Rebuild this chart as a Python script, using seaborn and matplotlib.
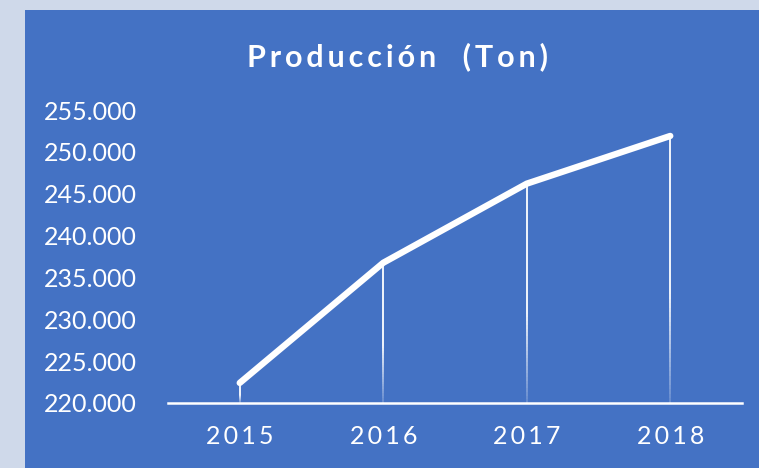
import numpy as np
import pandas as pd
import seaborn as sns
import matplotlib.pyplot as plt
from matplotlib.patches import Rectangle
from matplotlib.collections import LineCollection

years = ['2015', '2016', '2017', '2018']
produccion = [222400, 236750, 246200, 251900]
y_ticks = [220000, 225000, 230000, 235000, 240000, 245000, 250000, 255000]
title = 'Producción  (Ton)'

BLUE = '#4472C4'
PALE = '#CFD9EA'

sns.set_theme(style='white')
plt.rcParams['font.family'] = ['Lato', 'DejaVu Sans']


def spaced(text, gap='\u200a'):
  return gap.join(text)


def fmt(v):
  return f'{v:,.0f}'.replace(',', '.')


df = pd.DataFrame({'x': range(len(years)), 'y': produccion})

fig = plt.figure(figsize=(7.59, 4.68), dpi=100, facecolor=PALE)
fig.patches.append(Rectangle((25 / 759, 0), 1, 1 - 10 / 468,
                             transform=fig.transFigure, facecolor=BLUE,
                             edgecolor='none', zorder=-10))

ax = fig.add_axes([168 / 759, 65 / 468, (742 - 168) / 759, (403 - 110) / 468])
ax.set_facecolor('none')
ax.set_zorder(5)

# drop lines, fading toward the base
base = y_ticks[0]
for xi, yi in zip(df['x'], df['y']):
  ys = np.linspace(base, yi, 60)
  segs = [[(xi, ys[i]), (xi, ys[i + 1])] for i in range(len(ys) - 1)]
  frac = (ys[:-1] - base) / (yi - base)
  alpha = np.clip(0.2 + frac * 2.0, 0, 1)
  colors = [(1, 1, 1, a) for a in alpha]
  ax.add_collection(LineCollection(segs, colors=colors, linewidths=1.3, zorder=2))

sns.lineplot(data=df, x='x', y='y', ax=ax, color='white', linewidth=4.6,
             solid_capstyle='round', solid_joinstyle='round', zorder=3)

ax.set_xlim(-0.5, len(years) - 0.5)
ax.set_ylim(y_ticks[0], y_ticks[-1])
ax.set_xticks(range(len(years)))
ax.set_xticklabels([spaced(y, '\u2009') for y in years], color='white', fontsize=18)
ax.set_yticks(y_ticks)
ax.set_yticklabels([fmt(v) for v in y_ticks], color='white', fontsize=18, ha='left')
ax.tick_params(axis='x', length=0, pad=16)
ax.tick_params(axis='y', length=0, pad=(168 - 44) * 72 / 100)
ax.set_xlabel('')
ax.set_ylabel('')

for side in ['top', 'right', 'left']:
  ax.spines[side].set_visible(False)
ax.spines['bottom'].set_color('white')
ax.spines['bottom'].set_linewidth(1.8)

fig.text(397 / 759, 1 - 57 / 468, spaced(title, '\u2009'), color='white', fontsize=22,
         fontweight='bold', ha='center', va='center')

fig.savefig('out.png', dpi=100, facecolor=PALE)
